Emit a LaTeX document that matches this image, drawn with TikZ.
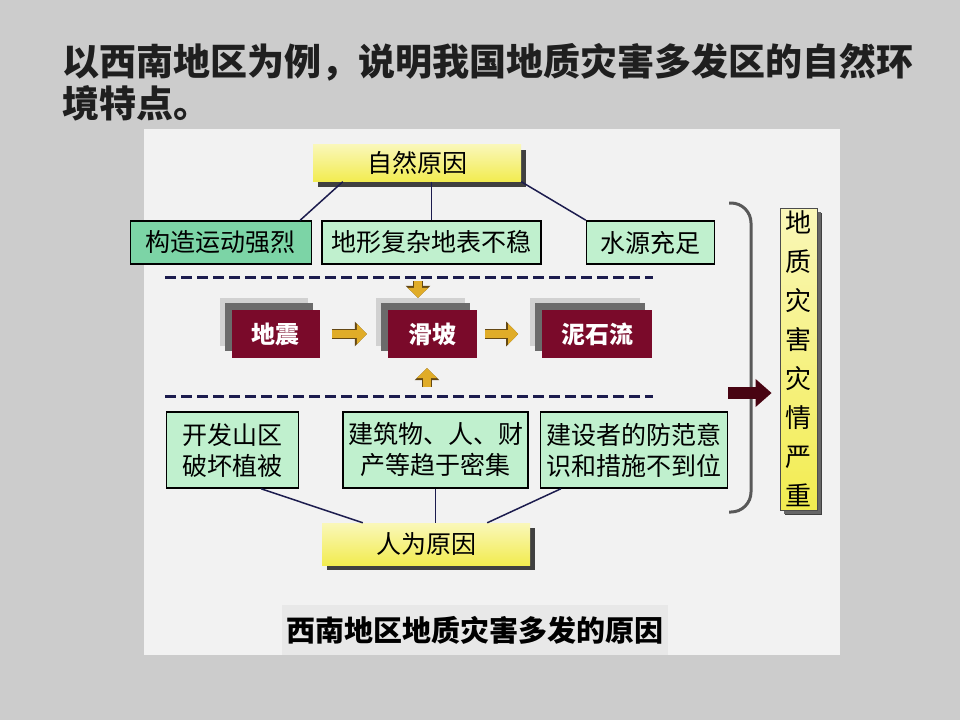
\documentclass[tikz,border=0pt]{standalone}
\usepackage{fontspec}
\setmainfont{Noto Sans CJK SC}
\usetikzlibrary{arrows.meta, positioning, shadows}

\definecolor{slidegray}{RGB}{204,204,204}
\definecolor{panelwhite}{RGB}{242,242,242}
\definecolor{causeyellow}{RGB}{242,236,80}
\definecolor{factgreen}{RGB}{124,212,166}
\definecolor{palegreen}{RGB}{192,240,206}
\definecolor{hazardred}{RGB}{122,10,42}
\definecolor{arrowgold}{RGB}{224,172,40}
\definecolor{arrowedge}{RGB}{100,72,20}
\definecolor{linenavy}{RGB}{28,28,78}
\definecolor{bigarrowred}{RGB}{72,4,18}

\begin{document}
\begin{tikzpicture}[
    x=1pt, y=-1pt,
    title/.style={font=\bfseries\fontsize{37}{42}\selectfont, align=left, inner sep=0pt, text=black!88},
    cause/.style={rectangle, top color=causeyellow!40!white, bottom color=causeyellow, minimum width=208pt, minimum height=37pt, font=\fontsize{25}{30}\selectfont, drop shadow={shadow xshift=5pt, shadow yshift=-5pt, fill=black!75, opacity=1}},
    fact/.style={rectangle, draw=black, line width=1.6pt, fill=palegreen, minimum height=43pt, inner sep=0pt, font=\fontsize{25}{30}\selectfont},
    human/.style={fact, minimum height=76pt, align=center, font=\fontsize{25}{31}\selectfont},
    hazard/.style={rectangle, fill=hazardred, text=white, minimum height=48pt, font=\bfseries\fontsize{24}{28}\selectfont, general shadow={shadow xshift=-12pt, shadow yshift=12pt, fill=black!18}, general shadow={shadow xshift=-7pt, shadow yshift=7pt, fill=black!58}},
    link/.style={draw=linenavy, line width=1.5pt},
    sep/.style={draw=linenavy, line width=3pt, dash pattern=on 11pt off 5pt},
    goldarrow/.style={-{Triangle[length=10pt,width=20pt]}, line width=8pt, draw=arrowgold, preaction={draw=arrowedge, line width=10.5pt, -{Triangle[length=12pt,width=24pt]}}},
    bigarrow/.style={-{Triangle[length=16pt,width=27pt]}, line width=12pt, draw=bigarrowred},
    bracket/.style={draw=black!65, line width=3pt, rounded corners=20pt},
]

% slide and panel
\fill[slidegray] (0,0) rectangle (960,720);
\fill[panelwhite] (144,129) rectangle (840,655);

% question
\node[title, anchor=north west] (ttl) at (62,43) {以西南地区为例，说明我国地质灾害多发区的自然环\\境特点。};

% natural causes
\node[cause] (nat) at (417,163) {自然原因};
\node[fact, minimum width=219pt] (dx) at (431.5,242.5) {地形复杂地表不稳};
\node[fact, minimum width=181pt, fill=factgreen, left=9pt of dx] (gz) {构造运动强烈};
\node[fact, minimum width=128pt, right=44pt of dx] (sy) {水源充足};

\coordinate (natsep) at (418,277);
\draw[sep] (165,277) -- (653,277);

% hazards
\node[hazard, minimum width=89pt] (hp) at (432.5,334) {滑坡};
\node[hazard, minimum width=88pt, left=68pt of hp] (dz) {地震};
\node[hazard, minimum width=110pt, right=65pt of hp] (ns) {泥石流};

\coordinate (humsep) at (427,396);
\draw[sep] (165,396) -- (653,396);

% human causes
\node[human, minimum width=185pt] (jz) at (435.5,450) {建筑物、人、财\\产等趋于密集};
\node[human, minimum width=132pt, left=43pt of jz] (kf) {开发山区\\破坏植被};
\node[human, minimum width=187pt, right=11pt of jz] (js) {建设者的防范意\\识和措施不到位};
\node[cause, minimum height=42pt] (rw) at (426,544) {人为原因};

% result
\coordinate (brtop) at (729,203);
\coordinate (brbot) at (729,512);
\draw[bracket] (brtop) -- ++(22,0) |- (brbot);
\node[cause, minimum width=37pt, minimum height=302pt, draw=black!70, line width=0.8pt, inner sep=0pt, align=center, font=\fontsize{26}{39}\selectfont, drop shadow={shadow xshift=4pt, shadow yshift=-4pt, fill=black!60, opacity=1}] (sev) at (798.5,359) {地\\质\\灾\\害\\灾\\情\\严\\重};
\coordinate (bigtail) at (728,393);

\node[font=\bfseries\fontsize{29}{34}\selectfont, fill=black!9, minimum width=386pt, minimum height=50pt] (cap) at (475,630) {西南地区地质灾害多发的原因};

% links
\draw[link] ([xshift=30pt]nat.south west) -- ([xshift=-12pt]gz.north east);
\draw[link] (dx.north |- nat.south) -- (dx.north);
\draw[link] (nat.south east) -- (sy.north west);

\draw[link] ([xshift=-38pt]kf.south east) -- ([xshift=41pt]rw.north west);
\draw[link] (jz.south) -- (jz.south |- rw.north);
\draw[link] ([xshift=21pt]js.south west) -- ([xshift=-43pt]rw.north east);

% arrows
\draw[goldarrow, shorten <=12pt, shorten >=21pt] (dz) -- (hp);
\draw[goldarrow, shorten <=8pt, shorten >=24pt] (hp) -- (ns);
\draw[goldarrow, shorten <=4pt, shorten >=12pt] (natsep) -- (natsep |- hp.north);
\draw[goldarrow, shorten <=9pt, shorten >=10pt] (humsep) -- (humsep |- hp.south);
\draw[bigarrow, shorten >=8pt] (bigtail) -- (bigtail -| sev.west);

\end{tikzpicture}
\end{document}
